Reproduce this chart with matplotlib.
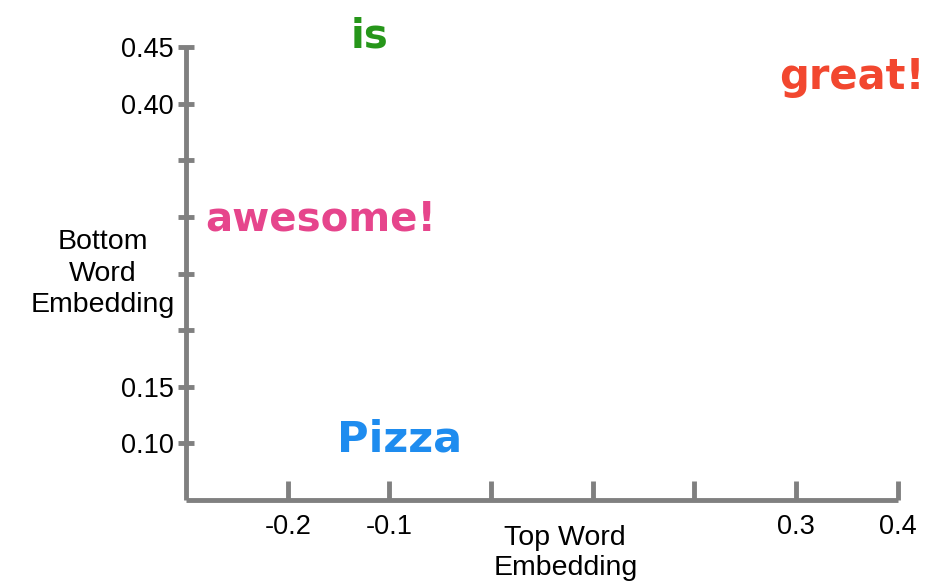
import matplotlib
matplotlib.use("Agg")
import matplotlib.pyplot as plt

# word positions in the 2-d embedding space
words = ["is", "great!", "awesome!", "Pizza"]
top_emb = [-0.12, 0.355, -0.168, -0.09]
bottom_emb = [0.459, 0.424, 0.298, 0.103]
word_colors = ["#26961a", "#f2472f", "#e6458c", "#1e8cef"]
word_sizes = [29, 30, 29, 31]

xticks = [-0.2, -0.1, 0.0, 0.1, 0.2, 0.3, 0.4]
xlabels = ["-0.2", "-0.1", "", "", "", "0.3", "0.4"]
yticks = [0.10, 0.15, 0.20, 0.25, 0.30, 0.35, 0.40, 0.45]
ylabels = ["0.10", "0.15", "", "", "", "", "0.40", "0.45"]

plt.rcParams['font.family'] = ['Liberation Sans', 'DejaVu Sans']

fig = plt.figure(figsize=(9.5, 5.82), dpi=100)
ax = fig.add_axes([0.196, 0.141, 0.749, 0.778])

ax.set_xlim(-0.3, 0.4)
ax.set_ylim(0.05, 0.45)

for s in ["top", "right"]:
    ax.spines[s].set_visible(False)
for s in ["left", "bottom"]:
    ax.spines[s].set_color("#808080")
    ax.spines[s].set_linewidth(3.5)
    ax.spines[s].set_capstyle("butt")

ax.set_xticks(xticks)
ax.set_xticklabels(xlabels)
ax.set_yticks(yticks)
ax.set_yticklabels(ylabels)
ax.tick_params(axis="x", direction="in", length=14, width=3.5, color="#808080",
               labelsize=19.5, pad=10)
ax.tick_params(axis="y", direction="inout", length=12, width=3.5, color="#808080",
               labelsize=19.5, pad=3)

for w, x, y, c, fs in zip(words, top_emb, bottom_emb, word_colors, word_sizes):
    ax.text(x, y, w, color=c, fontsize=fs, fontweight="bold", ha="center", va="center",
            family="DejaVu Sans", clip_on=False)

fig.text(0.108, 0.53, "Bottom\nWord\nEmbedding", ha="center", va="center",
         fontsize=20.5, linespacing=1.28)
fig.text(0.595, 0.05, "Top Word\nEmbedding", ha="center", va="center",
         fontsize=20.5, linespacing=1.2)

fig.savefig("out.png", dpi=100)
